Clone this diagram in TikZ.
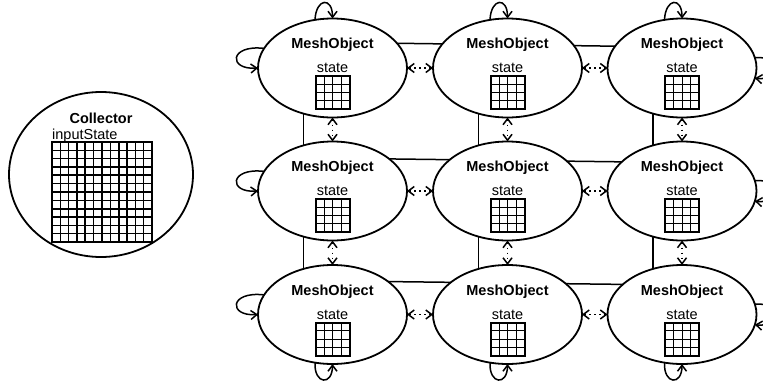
\documentclass[tikz,border=0pt]{standalone}
\usepackage{fontspec}
\setmainfont{Liberation Sans}
\usetikzlibrary{arrows.meta,calc,shapes.geometric}
\begin{document}
\begin{tikzpicture}[x=1pt,y=-1pt,
  meshnode/.style={draw, ellipse, fill=white, line width=1.8pt, minimum width=149pt, minimum height=99pt, inner sep=0pt, outer sep=0pt},
  collnode/.style={draw, ellipse, fill=white, line width=1.8pt, minimum width=184pt, minimum height=165pt, inner sep=0pt, outer sep=0pt},
  titletext/.style={font=\fontsize{14.5}{16}\selectfont\bfseries, anchor=base, inner sep=0pt},
  plaintext/.style={font=\fontsize{14.5}{16}\selectfont, anchor=base, inner sep=0pt},
  barb/.tip={Straight Barb[length=6pt,width=9pt]},
  link/.style={barb-barb, line width=1.5pt, dash pattern=on 1.5pt off 3.5pt},
  selfloop/.style={-barb, line width=1.5pt},
  meshline/.style={line width=1.5pt},
  gridthin/.style={line width=0.8pt},
  gridthick/.style={line width=2pt},
]
\useasboundingbox (0,0) rectangle (763,383);
\clip (0,0) rectangle (763,383);

% centres of the mesh objects
\foreach \r/\y in {1/68,2/191,3/314.5}
  \foreach \c/\x in {1/332.5,2/507.5,3/682}
    \coordinate (p-\r-\c) at (\x,\y);

% mesh lines behind the objects
\foreach \r/\a/\b in {1/-25.6/-20.9, 2/-32.8/-28.4, 3/-33.6/-29.4}
  \draw[meshline] ($(p-\r-1)+(0,\a)$) -- ($(p-\r-3)+(0,\b)$);
\foreach \c in {1,2,3}
  \draw[meshline] ($(p-1-\c)+(-29,0)$) -- ($(p-3-\c)+(-29,0)$);

% collector
\node[collnode] (col) at (101,174.5) {};
\node[titletext] (coltitle) at (101,123.3) {Collector};
\node[plaintext, anchor=base west] (colstate) at (52,139) {inputState};
\begin{scope}[shift={(52,142)}]
  \foreach \i in {1,...,11} {
    \draw[line width=1.3pt] ({\i*100/12},0) -- ({\i*100/12},100);
    \draw[line width=1.3pt] (0,{\i*100/12}) -- (100,{\i*100/12});
  }
  \foreach \i in {1,2} {
    \draw[line width=2.3pt] ({\i*100/3},0) -- ({\i*100/3},100);
    \draw[line width=2.3pt] (0,{\i*100/3}) -- (100,{\i*100/3});
  }
  \draw[line width=2.3pt] (0,0) rectangle (100,100);
\end{scope}

% mesh objects
\foreach \r in {1,2,3}
  \foreach \c in {1,2,3} {
    \node[meshnode] (m-\r-\c) at (p-\r-\c) {};
    \node[titletext] (t-\r-\c) at ($(p-\r-\c)+(0,-19.2)$) {MeshObject};
    \node[plaintext] (s-\r-\c) at ($(p-\r-\c)+(0,4.6)$) {state};
    \begin{scope}[shift={(p-\r-\c)}]
      \foreach \i in {1,2,3} {
        \draw[gridthin] ({-17+\i*8.5},8) -- ({-17+\i*8.5},41);
        \draw[gridthin] (-17,{8+\i*8.25}) -- (17,{8+\i*8.25});
      }
      \draw[gridthick] (-17,8) rectangle (17,41);
    \end{scope}
  }

% links between neighbours
\foreach \r in {1,2,3} {
  \draw[link] (m-\r-1.east) -- (m-\r-2.west);
  \draw[link] (m-\r-2.east) -- (m-\r-3.west);
}
\foreach \c in {1,2,3} {
  \draw[link] (m-1-\c.south) -- (m-2-\c.north);
  \draw[link] (m-2-\c.south) -- (m-3-\c.north);
}

% self loops on the outer sides
\foreach \r in {1,2,3} {
  \draw[selfloop] (m-\r-1.164) .. controls +(-35,-4) and +(-30,2) .. (m-\r-1.west);
  \draw[selfloop] (m-\r-3.8) .. controls +(25,-3) and +(25,3) .. (m-\r-3.-8);
}
\foreach \c in {1,2,3} {
  \draw[selfloop] (m-1-\c.110) .. controls +(1,-22) and +(0,-22) .. (m-1-\c.north);
  \draw[selfloop] (m-3-\c.250) .. controls +(-1,22) and +(0,22) .. (m-3-\c.south);
}
\end{tikzpicture}
\end{document}
